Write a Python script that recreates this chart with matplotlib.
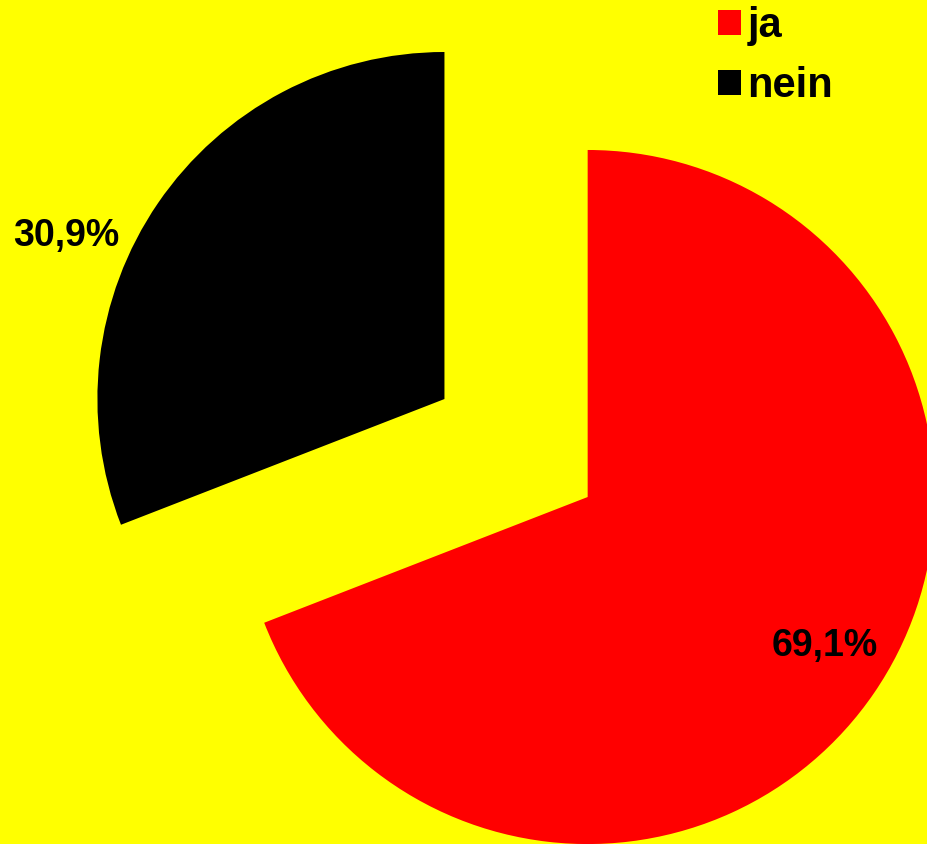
import matplotlib.pyplot as plt
from matplotlib.patches import Patch

labels = ['ja', 'nein']
values = [69.1, 30.9]
colors = ['#ff0000', '#000000']

plt.rcParams['font.family'] = ['Liberation Sans', 'DejaVu Sans']

fig = plt.figure(figsize=(9.28, 8.44), dpi=100, facecolor='#ffff00')
ax = fig.add_axes([0, 0, 1, 1])
ax.set_facecolor('#ffff00')

wedges, texts, autotexts = ax.pie(
    values, colors=colors, startangle=90, counterclock=False,
    explode=[0.25, 0.25], radius=1,
    autopct=lambda p: f'{p:.1f}%'.replace('.', ','),
    textprops=dict(fontsize=27, fontweight='bold', color='black'))

# Beschriftungen wie im Original platzieren
autotexts[0].set_position((0.89, -0.57))
autotexts[1].set_position((-1.297, 0.61))

ax.set_xlim(-1.487, 1.187)
ax.set_ylim(-1.141, 1.291)
ax.set_aspect('auto')
ax.axis('off')

handles = [Patch(facecolor=c, edgecolor='none') for c in colors]
leg = fig.legend(handles, labels, loc='upper left', bbox_to_anchor=(714 / 928, 0.998),
                 frameon=False, borderpad=0.1, borderaxespad=0,
                 handlelength=0.55, handleheight=0.55,
                 handletextpad=0.15, labelspacing=0.48,
                 prop=dict(size=30, weight='bold'))

fig.savefig('out.png', dpi=100, facecolor=fig.get_facecolor())
